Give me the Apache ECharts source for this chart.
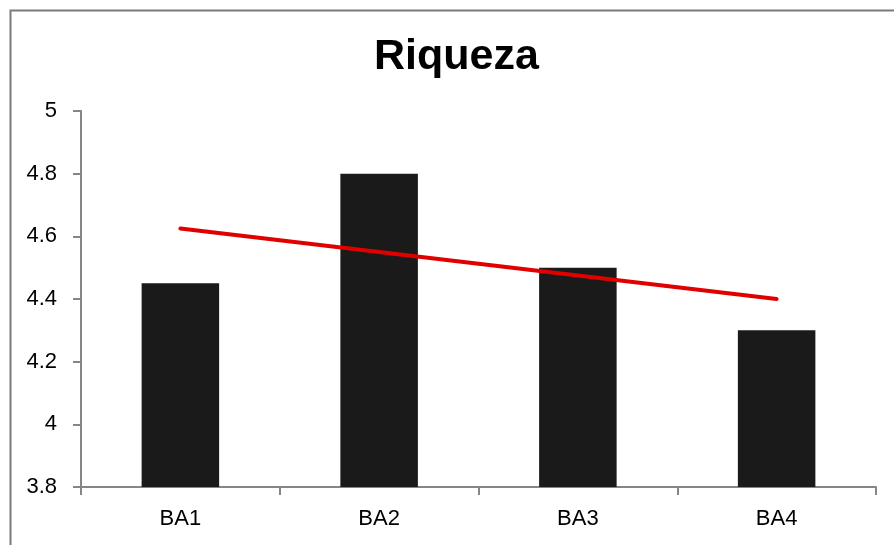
<!DOCTYPE html>
<html>
<head>
<meta charset="utf-8">
<script src="https://cdn.jsdelivr.net/npm/echarts@6/dist/echarts.min.js"></script>
<style>
  html, body { margin: 0; padding: 0; background: #fff; }
  #chart { width: 894px; height: 545px; }
</style>
</head>
<body>
<div id="chart"></div>
<script>
// Riqueza por área
const categories = ['BA1', 'BA2', 'BA3', 'BA4'];
const riqueza = [4.45, 4.8, 4.5, 4.3];
// Linear trend through the four areas
const tendencia = [4.625, 4.55, 4.475, 4.4];
const yTicks = { min: 3.8, max: 5, step: 0.2 };

const chart = echarts.init(document.getElementById('chart'), null, { renderer: 'canvas' });
const font = 'Arial, "Liberation Sans", sans-serif';

chart.setOption({
  backgroundColor: '#ffffff',
  animation: false,
  title: {
    text: 'Riqueza',
    left: 374,
    top: 36,
    padding: 0,
    textStyle: { fontFamily: font, fontSize: 43, fontWeight: 'bold', color: '#000' }
  },
  graphic: [{
    type: 'rect',
    shape: { x: 10.5, y: 10.5, width: 1000, height: 1000 },
    style: { fill: 'none', stroke: '#7a7a7a', lineWidth: 2 },
    silent: true,
    z: 0
  }],
  grid: { left: 81, right: 18, top: 111, bottom: 58, containLabel: false },
  xAxis: {
    type: 'category',
    data: categories,
    boundaryGap: true,
    axisLine: { lineStyle: { color: '#868686', width: 2 } },
    axisTick: { show: true, length: 8, inside: false, alignWithLabel: false, lineStyle: { color: '#868686', width: 2 } },
    axisLabel: { fontFamily: font, fontSize: 22, color: '#000', margin: 21 },
    splitLine: { show: false }
  },
  yAxis: {
    type: 'value',
    min: yTicks.min,
    max: yTicks.max,
    interval: yTicks.step,
    axisLine: { show: true, lineStyle: { color: '#868686', width: 2 } },
    axisTick: { show: true, length: 8, lineStyle: { color: '#868686', width: 2 } },
    axisLabel: {
      fontFamily: font, fontSize: 22, color: '#000', margin: 24,
      formatter: v => String(Math.round(v * 10) / 10)
    },
    splitLine: { show: false }
  },
  series: [
    {
      name: 'Riqueza',
      type: 'bar',
      data: riqueza,
      barWidth: '39%',
      itemStyle: { color: '#1a1a1a' },
      z: 2
    },
    {
      name: 'Tendencia',
      type: 'line',
      data: tendencia,
      symbol: 'none',
      lineStyle: { color: '#e00000', width: 4, cap: 'round' },
      z: 3
    }
  ]
});
</script>
</body>
</html>
